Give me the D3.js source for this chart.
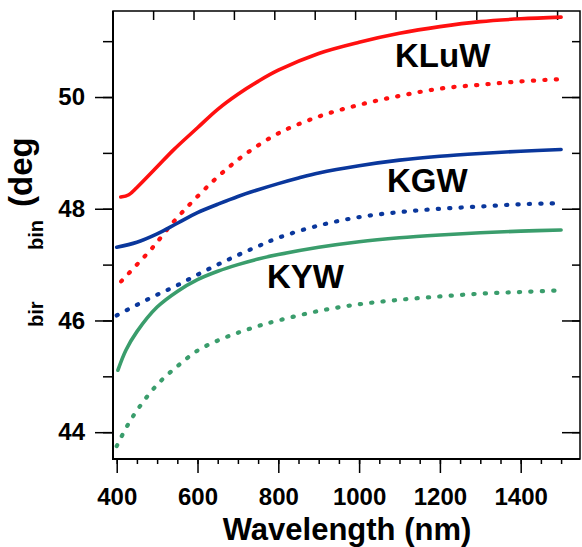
<!DOCTYPE html>
<html>
<head>
<meta charset="utf-8">
<script src="https://cdn.jsdelivr.net/npm/d3@7"></script>
<style>
  body { margin: 0; background: #fff; }
  text { font-family: "Liberation Sans", Arial, sans-serif; font-weight: bold; }
</style>
</head>
<body>
<svg width="582" height="547"></svg>
<script>
// wavelength samples (nm) and curves
var kluwSolidX = [410, 430, 450, 500, 540, 600, 650, 700, 750, 800, 900, 1000, 1100, 1200, 1300, 1400, 1500];
var kluwSolidY = [48.21, 48.25, 48.38, 48.75, 49.05, 49.45, 49.78, 50.05, 50.28, 50.48, 50.78, 50.98, 51.14, 51.26, 51.35, 51.40, 51.43];
var kluwDotX = [411, 450, 487, 540, 589, 638, 680, 723, 800, 900, 1000, 1100, 1200, 1300, 1400, 1500];
var kluwDotY = [46.70, 47.00, 47.29, 47.76, 48.14, 48.49, 48.76, 49.00, 49.35, 49.65, 49.86, 50.02, 50.15, 50.22, 50.28, 50.32];
var kgwSolidX = [400, 450, 500, 550, 600, 650, 700, 750, 800, 850, 900, 1000, 1100, 1200, 1300, 1400, 1500];
var kgwSolidY = [47.31, 47.40, 47.55, 47.74, 47.93, 48.08, 48.22, 48.34, 48.45, 48.55, 48.64, 48.77, 48.87, 48.94, 48.99, 49.03, 49.06];
var kgwDotX = [400, 450, 500, 550, 600, 650, 700, 750, 800, 900, 1000, 1100, 1200, 1300, 1400, 1500];
var kgwDotY = [46.09, 46.28, 46.46, 46.63, 46.82, 47.00, 47.17, 47.33, 47.48, 47.70, 47.85, 47.94, 48.00, 48.04, 48.08, 48.10];
var kywSolidX = [403, 423, 450, 500, 550, 600, 650, 700, 750, 800, 900, 1000, 1100, 1200, 1300, 1400, 1500];
var kywSolidY = [45.11, 45.47, 45.80, 46.24, 46.52, 46.73, 46.88, 47.00, 47.10, 47.18, 47.31, 47.41, 47.48, 47.53, 47.57, 47.60, 47.62];
var kywDotX = [400, 425, 455, 500, 550, 600, 650, 700, 750, 800, 900, 1000, 1100, 1200, 1300, 1400, 1500];
var kywDotY = [43.75, 44.10, 44.44, 44.85, 45.18, 45.46, 45.64, 45.78, 45.90, 46.00, 46.17, 46.29, 46.37, 46.43, 46.48, 46.51, 46.54];

var xTicks = [400, 600, 800, 1000, 1200, 1400];
var yTicks = [44, 46, 48, 50];
var crystalLabels = ["KLuW", "KGW", "KYW"];

var svg = d3.select("svg");

var x = d3.scaleLinear().domain([390.8, 1546.8]).range([113, 580]);
var y = d3.scaleLinear().domain([43.52, 51.54]).range([459, 11]);

function pairs(xs, ys) {
  return xs.map(function(d, i) { return [d, ys[i]]; });
}

var series = [
  {pts: pairs(kluwSolidX, kluwSolidY), color: "#ff1010", dotted: false},
  {pts: pairs(kluwDotX, kluwDotY), color: "#ff1010", dotted: true},
  {pts: pairs(kgwSolidX, kgwSolidY), color: "#0a379c", dotted: false},
  {pts: pairs(kgwDotX, kgwDotY), color: "#0a379c", dotted: true},
  {pts: pairs(kywSolidX, kywSolidY), color: "#3a9d6c", dotted: false},
  {pts: pairs(kywDotX, kywDotY), color: "#3a9d6c", dotted: true}
];

// minor ticks first
svg.append("g")
    .attr("transform", "translate(0,459)")
    .call(d3.axisBottom(x).tickValues(d3.range(400, 1550, 50)).tickSize(5).tickFormat(""))
    .call(function(g) { g.select(".domain").remove(); });
svg.append("g")
    .attr("transform", "translate(113,0)")
    .call(d3.axisLeft(y).tickValues(d3.range(44, 52, 1)).tickSize(10).tickFormat(""))
    .call(function(g) { g.select(".domain").remove(); });
svg.append("g")
    .attr("transform", "translate(580,0)")
    .call(d3.axisRight(y).tickValues(d3.range(44, 52, 1)).tickSize(-8).tickFormat(""))
    .call(function(g) { g.select(".domain").remove(); });
svg.append("g")
    .attr("transform", "translate(580,0)")
    .call(d3.axisRight(y).tickValues(yTicks).tickSize(-18).tickFormat(""))
    .call(function(g) { g.select(".domain").remove(); });
svg.append("g")
    .attr("transform", "translate(-4,11)")
    .call(d3.axisTop(x).tickValues(d3.range(500, 1501, 100)).tickSize(-9).tickFormat(""))
    .call(function(g) { g.select(".domain").remove(); });

// major ticks with labels
var xAxis = svg.append("g")
    .attr("transform", "translate(0,459)")
    .call(d3.axisBottom(x).tickValues(xTicks).tickSize(14).tickPadding(15).tickFormat(d3.format("d")));
var yAxis = svg.append("g")
    .attr("transform", "translate(113,0)")
    .call(d3.axisLeft(y).tickValues(yTicks).tickSize(18).tickPadding(10).tickFormat(d3.format("d")));

[xAxis, yAxis].forEach(function(g) {
  g.select(".domain").remove();
  g.selectAll("text").attr("font-size", 24).attr("fill", "#000")
    .style("font-family", "'Liberation Sans', Arial, sans-serif").style("font-weight", "bold");
});
svg.selectAll(".tick line").attr("stroke", "#000").attr("stroke-width", 1.5);

// frame
svg.append("rect")
    .attr("x", 113).attr("y", 11)
    .attr("width", 580 - 113).attr("height", 459 - 11)
    .attr("fill", "none").attr("stroke", "#000").attr("stroke-width", 1.5);
svg.append("path")
    .attr("d", "M113,11V459H580")
    .attr("fill", "none").attr("stroke", "#000").attr("stroke-width", 2);

var line = d3.line()
    .x(function(d) { return x(d[0]); })
    .y(function(d) { return y(d[1]); })
    .curve(d3.curveCatmullRom.alpha(0.5));

svg.selectAll(".curve")
  .data(series)
  .enter().append("path")
    .attr("class", "curve")
    .attr("d", function(d) { return line(d.pts); })
    .attr("fill", "none")
    .attr("stroke", function(d) { return d.color; })
    .attr("stroke-width", function(d) { return d.dotted ? 4.2 : 3.6; })
    .attr("stroke-linecap", "round")
    .attr("stroke-dasharray", function(d) { return d.dotted ? "1.2,10.2" : null; });

// crystal names
var labelPos = [[395, 67], [387, 192], [267, 288]];
svg.selectAll(".name")
  .data(crystalLabels)
  .enter().append("text")
    .attr("class", "name")
    .attr("x", function(d, i) { return labelPos[i][0]; })
    .attr("y", function(d, i) { return labelPos[i][1]; })
    .attr("font-size", 33)
    .text(function(d) { return d; });

// axis titles
svg.append("text")
    .attr("x", 347).attr("y", 540)
    .attr("text-anchor", "middle")
    .attr("font-size", 31)
    .text("Wavelength (nm)");

svg.append("text")
    .attr("transform", "translate(32,207) rotate(-90)")
    .attr("font-size", 33)
    .text("(deg");
svg.append("text")
    .attr("transform", "translate(43,250) rotate(-90)")
    .attr("font-size", 20)
    .text("bin");
svg.append("text")
    .attr("transform", "translate(43,327) rotate(-90)")
    .attr("font-size", 20)
    .text("bir");
</script>
</body>
</html>
